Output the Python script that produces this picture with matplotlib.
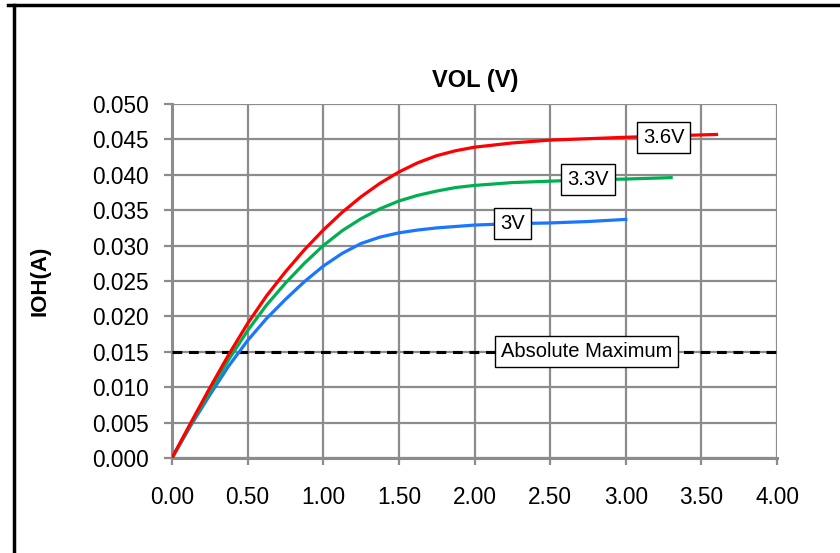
import matplotlib
matplotlib.use("Agg")
import matplotlib.pyplot as plt
from matplotlib.lines import Line2D

plt.rcParams['font.family'] = ['Liberation Sans', 'DejaVu Sans']

# ---- data ----
v_3v0 = [0.0, 0.125, 0.25, 0.375, 0.5, 0.625, 0.75, 0.875, 1.0, 1.125, 1.25, 1.375, 1.5,
         1.625, 1.75, 1.875, 2.0, 2.25, 2.5, 2.75, 3.0]
i_3v0 = [0.0, 0.0046, 0.0089, 0.0130, 0.0166, 0.0197, 0.0224, 0.0249, 0.0271, 0.0289, 0.0303, 0.0312, 0.0318,
         0.0322, 0.0325, 0.0327, 0.0329, 0.0331, 0.0332, 0.0334, 0.0337]

v_3v3 = [0.0, 0.125, 0.25, 0.375, 0.5, 0.625, 0.75, 0.875, 1.0, 1.125, 1.25, 1.375, 1.5,
         1.625, 1.75, 1.875, 2.0, 2.25, 2.5, 2.75, 3.0, 3.3]
i_3v3 = [0.0, 0.0048, 0.0094, 0.0139, 0.0180, 0.0216, 0.0247, 0.0275, 0.0300, 0.0321, 0.0338, 0.0352, 0.0363,
         0.0371, 0.0377, 0.0382, 0.0385, 0.0389, 0.0391, 0.0393, 0.0394, 0.0396]

v_3v6 = [0.0, 0.125, 0.25, 0.375, 0.5, 0.625, 0.75, 0.875, 1.0, 1.125, 1.25, 1.375, 1.5,
         1.625, 1.75, 1.875, 2.0, 2.25, 2.5, 2.75, 3.0, 3.3, 3.6]
i_3v6 = [0.0, 0.0050, 0.0099, 0.0146, 0.0190, 0.0229, 0.0263, 0.0294, 0.0322, 0.0347, 0.0369, 0.0388, 0.0404,
         0.0417, 0.0427, 0.0434, 0.0439, 0.0445, 0.0449, 0.0451, 0.0453, 0.0455, 0.0457]

abs_max = 0.015
series_labels = ["3V", "3.3V", "3.6V"]
x_ticks = [0.0, 0.5, 1.0, 1.5, 2.0, 2.5, 3.0, 3.5, 4.0]
y_ticks = [0.000, 0.005, 0.010, 0.015, 0.020, 0.025, 0.030, 0.035, 0.040, 0.045, 0.050]

fig = plt.figure(figsize=(8.4, 5.53), dpi=100)
ax = fig.add_axes([172/840, 1-458/553, (777-172)/840, (458-104)/553])

grid_c = '#8c8c8c'
ax.set_xlim(0, 4)
ax.set_ylim(0, 0.05)
ax.set_xticks(x_ticks)
ax.set_yticks(y_ticks)
ax.set_xticklabels([f"{t:.2f}" for t in x_ticks])
ax.set_yticklabels([f"{t:.3f}" for t in y_ticks])
ax.grid(True, color=grid_c, linewidth=1.6)
ax.set_axisbelow(True)
for s in ['top', 'right']:
    ax.spines[s].set_visible(False)
for s in ['left', 'bottom']:
    ax.spines[s].set_color(grid_c)
    ax.spines[s].set_linewidth(2.2)
ax.tick_params(axis='y', direction='out', length=6, width=1.6, color=grid_c, labelsize=16.3, pad=11)
ax.tick_params(axis='x', direction='out', length=5, width=1.6, color=grid_c, labelsize=16.3, pad=15)

ax.axhline(abs_max, color='black', linestyle=(0, (3.2, 2.2)), linewidth=2.2, zorder=3)

ax.plot(v_3v0, i_3v0, color='#1a75ff', linewidth=2.3, zorder=4, solid_joinstyle='round')
ax.plot(v_3v3, i_3v3, color='#00b050', linewidth=2.3, zorder=4, solid_joinstyle='round')
ax.plot(v_3v6, i_3v6, color='#ff0000', linewidth=2.3, zorder=5, solid_joinstyle='round')

box = dict(boxstyle='square,pad=0.3', facecolor='white', edgecolor='black', linewidth=1.0)
ax.text(2.25, 0.0331, series_labels[0], fontsize=14.5, ha='center', va='center', bbox=box, zorder=6)
ax.text(2.75, 0.0394, series_labels[1], fontsize=14.5, ha='center', va='center', bbox=box, zorder=6)
ax.text(3.25, 0.0453, series_labels[2], fontsize=14.5, ha='center', va='center', bbox=box, zorder=6)
ax.text(2.74, 0.0151, "Absolute Maximum", fontsize=14.5, ha='center', va='center', bbox=box, zorder=6)

fig.text(475/840, 1-80/553, "VOL (V)", fontsize=17, fontweight='bold', ha='center', va='center')
fig.text(40/840, 1-281/553, "IOH(A)", fontsize=16, fontweight='bold', ha='center', va='center', rotation=90)

# outer frame (partially outside the image)
fig.add_artist(Line2D([14/840, 14/840], [-0.1, 1-5/553], transform=fig.transFigure, color='black', linewidth=2.5))
fig.add_artist(Line2D([8/840, 1.1], [1-5/553, 1-5/553], transform=fig.transFigure, color='black', linewidth=2.5))

fig.savefig("out.png", dpi=100)
